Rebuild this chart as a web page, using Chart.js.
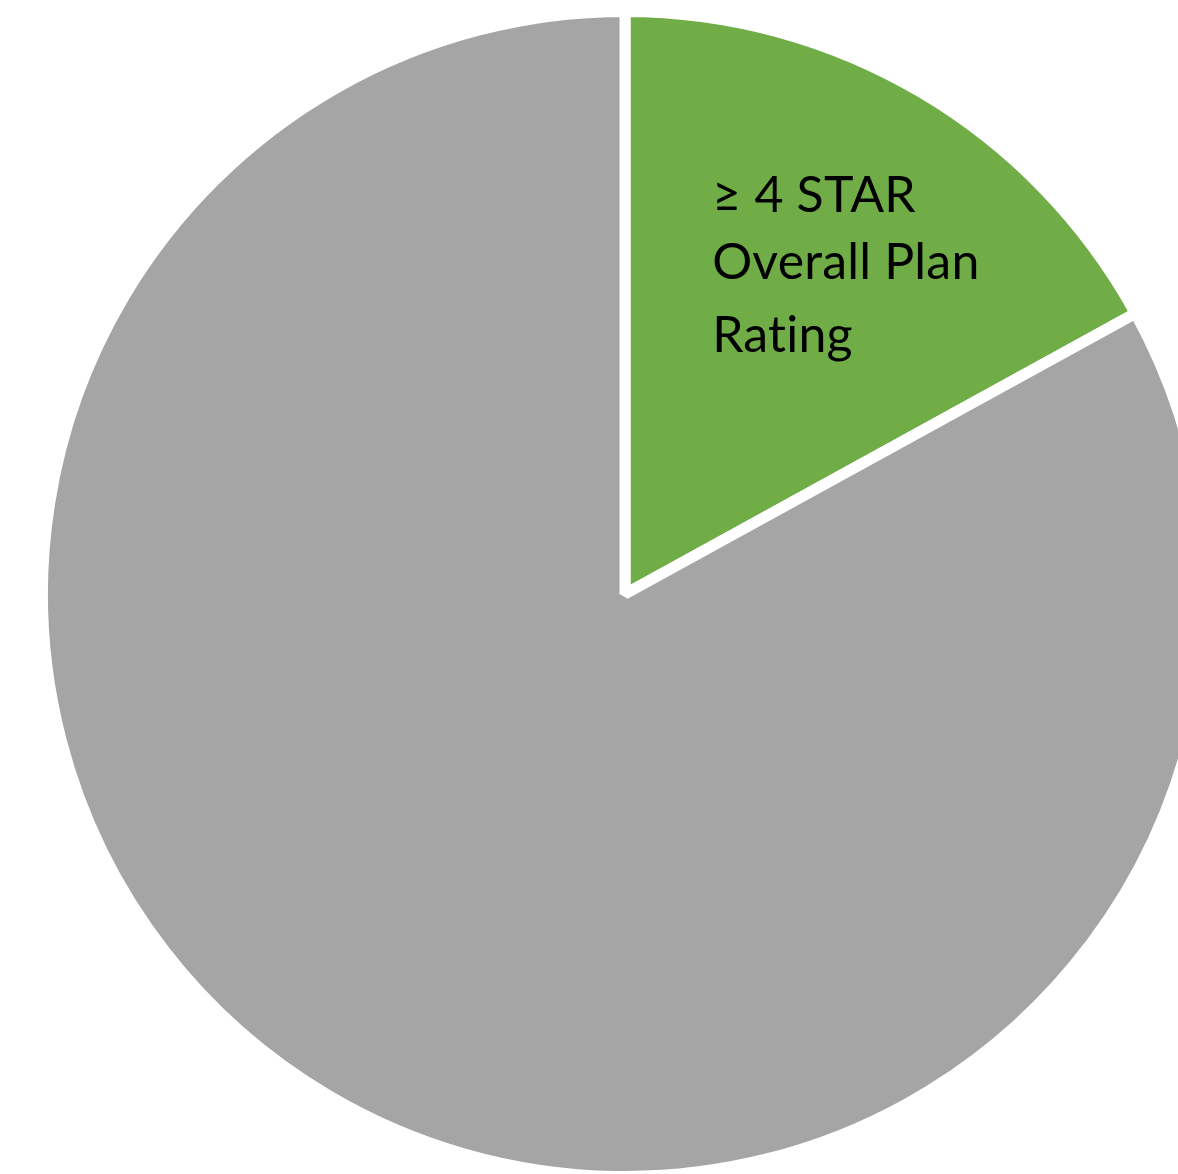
<!DOCTYPE html>
<html>
<head>
<meta charset="utf-8">
<script src="https://cdn.jsdelivr.net/npm/chart.js@4/dist/chart.umd.min.js"></script>
<style>
  html, body { margin: 0; padding: 0; background: #fff; overflow: hidden; width: 1178px; height: 1174px; }
  #wrap { position: absolute; left: 37px; top: 6px; width: 1176px; height: 1176px; }
</style>
</head>
<body>
<div id="wrap"><canvas id="chart"></canvas></div>
<script>
const categories = ['≥ 4 STAR Overall Plan Rating', 'Other'];
const shares = [17, 83];
const colors = ['#70AD47', '#A5A5A5'];
const sliceLabel = ['≥ 4 STAR', 'Overall Plan', 'Rating'];

// writes the wrapped label inside the green slice, placed relative to the pie centre
const sliceText = {
  id: 'sliceText',
  afterDatasetsDraw(chart) {
    const arc = chart.getDatasetMeta(0).data[0];
    const r = arc.outerRadius - 5;
    const ctx = chart.ctx;
    ctx.save();
    ctx.fillStyle = '#000';
    ctx.font = '50px Lato';
    ctx.letterSpacing = '0.2px'; // keeps "ti" from turning into a ligature
    ctx.textAlign = 'left';
    ctx.textBaseline = 'alphabetic';
    const rows = [-0.661, -0.545, -0.419];
    sliceLabel.forEach((line, i) => {
      ctx.fillText(line, arc.x + 0.151 * r, arc.y + rows[i] * r);
    });
    ctx.restore();
  }
};

new Chart(document.getElementById('chart').getContext('2d'), {
  type: 'pie',
  data: {
    labels: categories,
    datasets: [{
      data: shares,
      backgroundColor: colors,
      borderColor: '#ffffff',
      borderWidth: 11
    }]
  },
  options: {
    responsive: true,
    maintainAspectRatio: false,
    animation: false,
    layout: { padding: 0 },
    plugins: {
      legend: { display: false },
      tooltip: { enabled: false }
    }
  },
  plugins: [sliceText]
});
</script>
</body>
</html>
